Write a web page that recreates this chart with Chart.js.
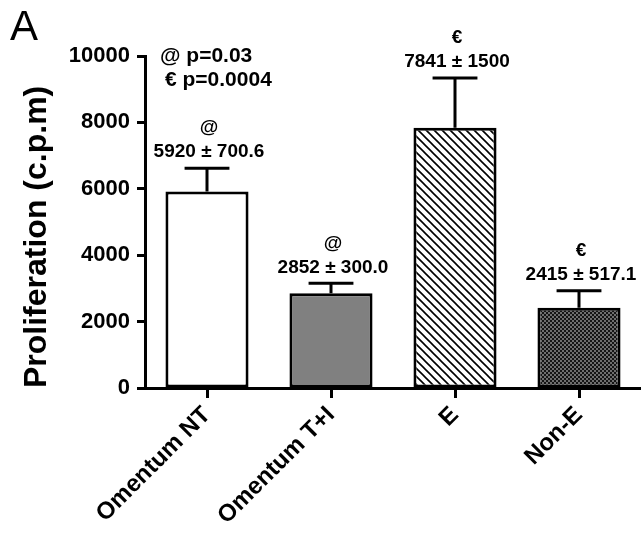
<!DOCTYPE html>
<html>
<head>
<meta charset="utf-8">
<script src="https://cdn.jsdelivr.net/npm/chart.js@4.4.1/dist/chart.umd.min.js"></script>
<style>
  html, body { margin: 0; padding: 0; background: #fff; }
  #wrap { width: 641px; height: 535px; position: relative; }
</style>
</head>
<body>
<div id="wrap"><canvas id="prolifChart"></canvas></div>
<script>
// data
const categories = ['Omentum NT', 'Omentum T+I', 'E', 'Non-E'];
const means = [5920, 2852, 7841, 2415];
const sems = [700.6, 300.0, 1500, 517.1];
const markers = ['@', '@', '€', '€'];
const valueLabels = ['5920 ± 700.6', '2852 ± 300.0', '7841 ± 1500', '2415 ± 517.1'];
const pNotes = ['@ p=0.03', '€ p=0.0004'];
const yTicks = [0, 2000, 4000, 6000, 8000, 10000];

const FONT = '"Liberation Sans", Arial, Helvetica, sans-serif';

// hatch pattern  "\\\\"
function makeHatch() {
    const s = 8;
    const c = document.createElement('canvas');
    c.width = s; c.height = s;
    const g = c.getContext('2d');
    g.fillStyle = '#fff';
    g.fillRect(0, 0, s, s);
    g.strokeStyle = '#000';
    g.lineWidth = 1.6;
    g.beginPath();
    g.moveTo(-1, -1); g.lineTo(s + 1, s + 1);
    g.moveTo(-1, s - 1); g.lineTo(1, s + 1);
    g.moveTo(s - 1, -1); g.lineTo(s + 1, 1);
    g.stroke();
    return g.createPattern(c, 'repeat');
}

// fine checker pattern
function makeChecker() {
    const c = document.createElement('canvas');
    c.width = 4; c.height = 4;
    const g = c.getContext('2d');
    g.fillStyle = '#151515';
    g.fillRect(0, 0, 4, 4);
    g.fillStyle = '#6e6e6e';
    g.fillRect(0, 0, 2, 2);
    g.fillRect(2, 2, 2, 2);
    return g.createPattern(c, 'repeat');
}

// error bars (upper only) + labels above them
const errorBarPlugin = {
    id: 'errorBars',
    afterDatasetsDraw(chart) {
        const ctx = chart.ctx;
        const meta = chart.getDatasetMeta(0);
        const yScale = chart.scales.y;
        ctx.save();
        ctx.strokeStyle = '#000';
        ctx.lineWidth = 3;
        meta.data.forEach((bar, i) => {
            const capY = yScale.getPixelForValue(means[i] + sems[i]);
            const half = bar.width * 0.27;
            ctx.beginPath();
            ctx.moveTo(bar.x, bar.y);
            ctx.lineTo(bar.x, capY);
            ctx.moveTo(bar.x - half, capY);
            ctx.lineTo(bar.x + half, capY);
            ctx.stroke();

            ctx.fillStyle = '#000';
            ctx.textAlign = 'center';
            ctx.textBaseline = 'middle';
            ctx.font = 'bold 19px ' + FONT;
            ctx.fillText(valueLabels[i], bar.x + 2, capY - 16);
            ctx.fillText(markers[i], bar.x + 2, capY - 40);
        });
        ctx.restore();
    },
    afterDraw(chart) {
        const ctx = chart.ctx;
        const area = chart.chartArea;
        ctx.save();
        ctx.fillStyle = '#000';
        ctx.textAlign = 'left';
        ctx.textBaseline = 'middle';
        ctx.font = 'bold 21px ' + FONT;
        ctx.fillText(pNotes[0], area.left + 15, area.top + 0);
        ctx.fillText(pNotes[1], area.left + 20, area.top + 24);
        ctx.font = '42px ' + FONT;
        ctx.textBaseline = 'alphabetic';
        ctx.fillText('A', 10, 40);
        ctx.restore();
    }
};

const ctx = document.getElementById('prolifChart');

new Chart(ctx, {
    type: 'bar',
    data: {
        labels: categories,
        datasets: [{
            data: means,
            backgroundColor: ['#ffffff', '#808080', makeHatch(), makeChecker()],
            borderColor: '#000',
            borderWidth: 3,
            borderSkipped: false,
            barPercentage: 0.67,
            categoryPercentage: 1.0
        }]
    },
    options: {
        responsive: true,
        maintainAspectRatio: false,
        animation: false,
        events: [],
        layout: {
            padding: { top: 56, right: 0, left: 0, bottom: 0 }
        },
        plugins: {
            legend: { display: false },
            tooltip: { enabled: false }
        },
        scales: {
            x: {
                offset: true,
                afterFit(scale) { scale.height = 147; },
                grid: {
                    display: true,
                    drawOnChartArea: false,
                    drawTicks: true,
                    tickLength: 10,
                    tickWidth: 3,
                    tickColor: '#000',
                    offset: false
                },
                border: { display: true, color: '#000', width: 3 },
                ticks: {
                    color: '#000',
                    font: { family: FONT, size: 24, weight: 'bold' },
                    minRotation: 45,
                    maxRotation: 45,
                    padding: 3
                }
            },
            y: {
                min: 0,
                max: 10000,
                afterFit(scale) { scale.width = 145; },
                afterBuildTicks(scale) {
                    scale.ticks = yTicks.map(v => ({ value: v }));
                },
                grid: {
                    display: true,
                    drawOnChartArea: false,
                    drawTicks: true,
                    tickLength: 8,
                    tickWidth: 3,
                    tickColor: '#000'
                },
                border: { display: true, color: '#000', width: 3 },
                ticks: {
                    color: '#000',
                    font: { family: FONT, size: 22, weight: 'bold' },
                    padding: 7,
                    callback: v => String(v)
                },
                title: {
                    display: true,
                    text: 'Proliferation (c.p.m)',
                    align: 'start',
                    color: '#000',
                    font: { family: FONT, size: 32, weight: 'bold' },
                    padding: { top: 18, bottom: 0 }
                }
            }
        }
    },
    plugins: [errorBarPlugin]
});
</script>
</body>
</html>
